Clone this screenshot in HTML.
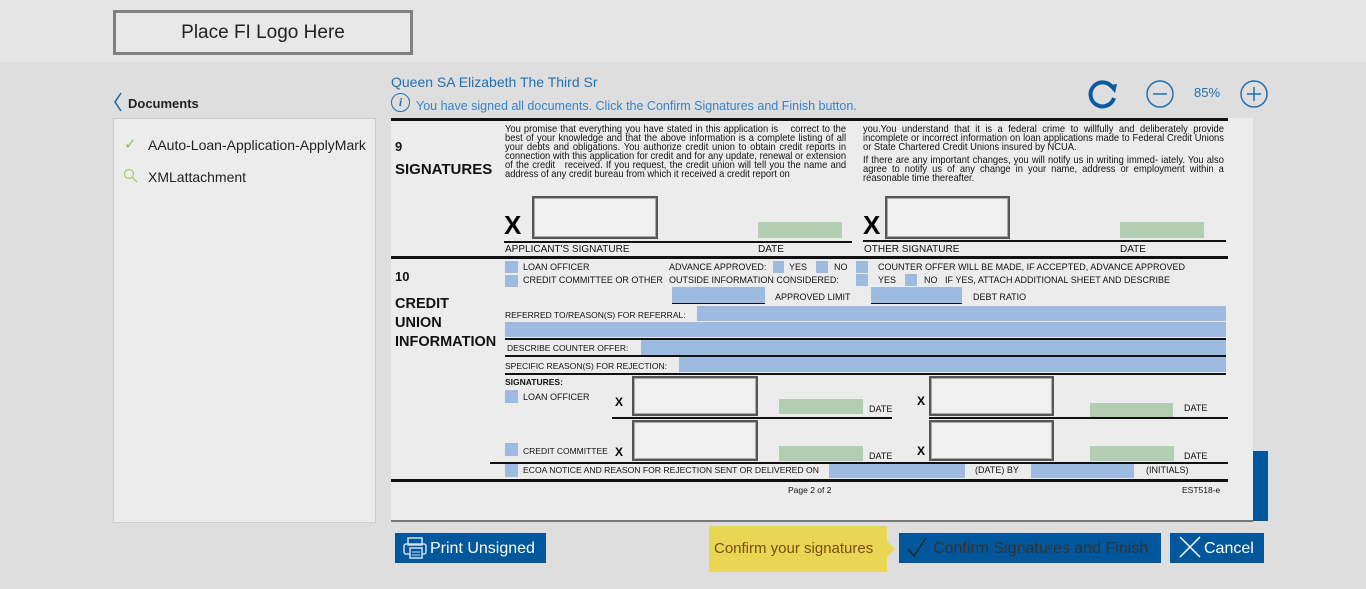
<!DOCTYPE html>
<html><head><meta charset="utf-8"><style>
*{margin:0;padding:0;box-sizing:border-box}
body{width:1366px;height:589px;background:#dedede;position:relative;overflow:hidden;font-family:"Liberation Sans",Arial,sans-serif}
.a{position:absolute}
.t{position:absolute;font-size:9px;color:#111;white-space:nowrap;line-height:10px}
.bl{position:absolute;background:#9dbbe0}
.gr{position:absolute;background:#b3cdb3}
.sig{position:absolute;border:2px solid #555;background:#f0f0f0;box-shadow:inset 0 0 0 1px #aaa}
.hl{position:absolute;background:#111}
.X{position:absolute;font-weight:bold;color:#000}
.btn{position:absolute;background:#00579b;color:#fff;font-size:16px;line-height:31px}
.par{position:absolute;font-size:10.4px;line-height:9px;color:#111;text-align:justify;transform:scaleX(0.9);transform-origin:0 0}
</style></head><body>
<div class="a" style="left:0;top:0;width:1366px;height:62px;background:#e5e5e5"></div>
<div class="a" style="left:113px;top:10px;width:300px;height:45px;border:3px solid #808080;background:#e8e8e8;font-size:19px;color:#222;text-align:center;line-height:39px">Place FI Logo Here</div>

<svg class="a" style="left:112px;top:91px" width="12" height="22"><path d="M9 2 L3 11 L9 20" fill="none" stroke="#1a63a8" stroke-width="1.5"/></svg>
<div class="a" style="left:128px;top:96px;font-size:13px;font-weight:bold;color:#222">Documents</div>
<div class="a" style="left:113px;top:118px;width:263px;height:405px;border:1px solid #ccc;background:#ececec"></div>
<div class="a" style="left:124px;top:135px;font-size:15px;color:#8bbd60">&#10003;</div>
<div class="a" style="left:148px;top:137px;font-size:14px;color:#222">AAuto-Loan-Application-ApplyMark</div>
<svg class="a" style="left:123px;top:168px" width="16" height="16"><circle cx="6" cy="6" r="4.5" fill="none" stroke="#a7c772" stroke-width="1.3"/><line x1="9" y1="9" x2="14" y2="14" stroke="#a7c772" stroke-width="1.3"/></svg>
<div class="a" style="left:148px;top:169px;font-size:14px;color:#222">XMLattachment</div>

<div class="a" style="left:391px;top:74px;font-size:14px;color:#1f6fb2">Queen SA Elizabeth The Third Sr</div>
<div class="a" style="left:391px;top:93px;width:19px;height:19px;border:1px solid #1f6fb2;border-radius:50%;color:#1f6fb2;font:italic bold 12px 'Liberation Serif',serif;text-align:center;line-height:17px">i</div>
<div class="a" style="left:416px;top:99px;font-size:12.5px;color:#3a82c4">You have signed all documents. Click the Confirm Signatures and Finish button.</div>

<svg class="a" style="left:1085px;top:78px" width="190" height="32">
<path d="M27 9 A12 12 0 1 0 29 20" fill="none" stroke="#0a5aa0" stroke-width="4"/>
<path d="M23 7 L32 6 L30 15 Z" fill="#0a5aa0"/>
<circle cx="75" cy="16" r="13" fill="none" stroke="#1f6fb2" stroke-width="1.5"/><line x1="68" y1="16" x2="82" y2="16" stroke="#1f6fb2" stroke-width="1.5"/>
<text x="109" y="19" font-size="13" fill="#1f6fb2" font-family="Liberation Sans">85%</text>
<circle cx="169" cy="16" r="13" fill="none" stroke="#1f6fb2" stroke-width="1.5"/><line x1="162" y1="16" x2="176" y2="16" stroke="#1f6fb2" stroke-width="1.5"/><line x1="169" y1="9" x2="169" y2="23" stroke="#1f6fb2" stroke-width="1.5"/>
</svg>

<div class="a" style="left:391px;top:118px;width:862px;height:404px;background:#ececec"></div>
<div class="a" style="left:391px;top:520px;width:862px;height:2px;background:#777"></div>
<div class="a" style="left:1253px;top:451px;width:15px;height:70px;background:#00579b"></div>

<div class="hl" style="left:391px;top:118px;width:837px;height:3px"></div>
<div class="t" style="left:395px;top:142px;font-size:13px;font-weight:bold">9</div>
<div class="t" style="left:395px;top:162px;font-size:15px;font-weight:bold;line-height:16px">SIGNATURES</div>
<div class="par" style="left:505px;top:125px;width:379px">You promise that everything you have stated in this application is &nbsp;&nbsp; correct to the best of your knowledge and that the above information is a complete listing of all your debts and obligations. You authorize credit union to obtain credit reports in connection with this application for credit and for any update, renewal or extension of the credit &nbsp; received. If you request, the credit union will tell you the name and address of any credit bureau from which it received a credit report on</div>
<div class="par" style="left:863px;top:125px;width:401px">you.You understand that it is a federal crime to willfully and deliberately provide incomplete or incorrect information on loan applications made to Federal Credit Unions or State Chartered Credit Unions insured by NCUA.</div>
<div class="par" style="left:863px;top:156px;width:401px">If there are any important changes, you will notify us in writing immed- iately. You also agree to notify us of any change in your name, address or employment within a reasonable time thereafter.</div>
<div class="X" style="left:504px;top:210px;font-size:26px">X</div>
<div class="sig" style="left:532px;top:196px;width:126px;height:43px"></div>
<div class="gr" style="left:758px;top:222px;width:84px;height:16px"></div>
<div class="hl" style="left:504px;top:241px;width:348px;height:2px"></div>
<div class="t" style="left:505px;top:245px;font-size:10px">APPLICANT'S SIGNATURE</div>
<div class="t" style="left:758px;top:245px;font-size:10px">DATE</div>
<div class="X" style="left:863px;top:210px;font-size:26px">X</div>
<div class="sig" style="left:885px;top:196px;width:125px;height:43px"></div>
<div class="gr" style="left:1120px;top:222px;width:84px;height:16px"></div>
<div class="hl" style="left:863px;top:240px;width:363px;height:2px"></div>
<div class="t" style="left:864px;top:245px;font-size:10px">OTHER SIGNATURE</div>
<div class="t" style="left:1120px;top:245px;font-size:10px">DATE</div>

<div class="hl" style="left:391px;top:256px;width:837px;height:3px"></div>
<div class="t" style="left:395px;top:272px;font-size:13px;font-weight:bold">10</div>
<div class="t" style="left:395px;top:295px;font-size:14.5px;font-weight:bold;line-height:19px">CREDIT<br>UNION<br>INFORMATION</div>

<div class="bl" style="left:505px;top:261px;width:13px;height:12px"></div>
<div class="t" style="left:523px;top:262px">LOAN OFFICER</div>
<div class="bl" style="left:505px;top:275px;width:13px;height:12px"></div>
<div class="t" style="left:523px;top:275px">CREDIT COMMITTEE OR OTHER</div>
<div class="t" style="left:669px;top:262px">ADVANCE APPROVED:</div>
<div class="bl" style="left:773px;top:261px;width:11px;height:12px"></div>
<div class="t" style="left:789px;top:262px">YES</div>
<div class="bl" style="left:816px;top:261px;width:12px;height:12px"></div>
<div class="t" style="left:834px;top:262px">NO</div>
<div class="t" style="left:669px;top:275px">OUTSIDE INFORMATION CONSIDERED:</div>
<div class="bl" style="left:856px;top:261px;width:12px;height:12px"></div>
<div class="t" style="left:878px;top:262px">COUNTER OFFER WILL BE MADE, IF ACCEPTED, ADVANCE APPROVED</div>
<div class="bl" style="left:856px;top:274px;width:12px;height:12px"></div>
<div class="t" style="left:878px;top:275px">YES</div>
<div class="bl" style="left:905px;top:274px;width:12px;height:12px"></div>
<div class="t" style="left:924px;top:275px">NO &nbsp; IF YES, ATTACH ADDITIONAL SHEET AND DESCRIBE</div>
<div class="bl" style="left:672px;top:287px;width:93px;height:16px"></div>
<div class="hl" style="left:672px;top:303px;width:93px;height:1px"></div>
<div class="t" style="left:775px;top:292px">APPROVED LIMIT</div>
<div class="bl" style="left:871px;top:287px;width:91px;height:16px"></div>
<div class="hl" style="left:871px;top:303px;width:91px;height:1px"></div>
<div class="t" style="left:973px;top:292px">DEBT RATIO</div>

<div class="t" style="left:505px;top:310px;font-size:8.5px">REFERRED TO/REASON(S) FOR REFERRAL:</div>
<div class="bl" style="left:697px;top:306px;width:529px;height:15px"></div>
<div class="bl" style="left:505px;top:322px;width:721px;height:15px"></div>
<div class="hl" style="left:505px;top:338px;width:721px;height:2px"></div>
<div class="t" style="left:507px;top:343px;font-size:8.5px">DESCRIBE COUNTER OFFER:</div>
<div class="bl" style="left:641px;top:340px;width:585px;height:15px"></div>
<div class="hl" style="left:505px;top:355px;width:721px;height:2px"></div>
<div class="t" style="left:505px;top:361px;font-size:8.5px">SPECIFIC REASON(S) FOR REJECTION:</div>
<div class="bl" style="left:679px;top:357px;width:547px;height:15px"></div>
<div class="hl" style="left:505px;top:373px;width:721px;height:2px"></div>
<div class="t" style="left:505px;top:377px;font-weight:bold;font-size:8.5px">SIGNATURES:</div>
<div class="bl" style="left:505px;top:390px;width:13px;height:13px"></div>
<div class="t" style="left:523px;top:392px">LOAN OFFICER</div>
<div class="X" style="left:615px;top:395px;font-size:12px">X</div>
<div class="sig" style="left:632px;top:376px;width:126px;height:40px"></div>
<div class="gr" style="left:779px;top:399px;width:84px;height:15px"></div>
<div class="t" style="left:869px;top:404px">DATE</div>
<div class="hl" style="left:612px;top:417px;width:280px;height:2px"></div>
<div class="X" style="left:917px;top:394px;font-size:12px">X</div>
<div class="sig" style="left:929px;top:376px;width:125px;height:40px"></div>
<div class="gr" style="left:1090px;top:403px;width:83px;height:14px"></div>
<div class="t" style="left:1184px;top:403px">DATE</div>
<div class="hl" style="left:929px;top:417px;width:299px;height:2px"></div>

<div class="bl" style="left:505px;top:443px;width:13px;height:13px"></div>
<div class="t" style="left:523px;top:446px;font-size:8.5px">CREDIT COMMITTEE</div>
<div class="X" style="left:615px;top:445px;font-size:12px">X</div>
<div class="sig" style="left:632px;top:420px;width:126px;height:41px"></div>
<div class="gr" style="left:779px;top:446px;width:84px;height:15px"></div>
<div class="t" style="left:869px;top:451px">DATE</div>
<div class="X" style="left:917px;top:444px;font-size:12px">X</div>
<div class="sig" style="left:929px;top:420px;width:125px;height:41px"></div>
<div class="gr" style="left:1090px;top:446px;width:84px;height:15px"></div>
<div class="t" style="left:1184px;top:451px">DATE</div>
<div class="hl" style="left:490px;top:462px;width:738px;height:2px"></div>
<div class="bl" style="left:505px;top:464px;width:13px;height:13px"></div>
<div class="t" style="left:523px;top:465px;font-size:8.6px">ECOA NOTICE AND REASON FOR REJECTION SENT OR DELIVERED ON</div>
<div class="bl" style="left:829px;top:464px;width:136px;height:14px"></div>
<div class="t" style="left:975px;top:465px">(DATE) BY</div>
<div class="bl" style="left:1031px;top:464px;width:103px;height:14px"></div>
<div class="t" style="left:1146px;top:465px">(INITIALS)</div>
<div class="hl" style="left:391px;top:479px;width:837px;height:3px"></div>
<div class="t" style="left:788px;top:485px;font-size:8.5px">Page 2 of 2</div>
<div class="t" style="left:1182px;top:485px;font-size:8.5px">EST518-e</div>

<div class="btn" style="left:395px;top:533px;width:151px;height:30px;padding-left:35px">Print Unsigned</div>
<svg class="a" style="left:403px;top:537px" width="24" height="22"><rect x="5" y="1" width="14" height="7" fill="none" stroke="#cfe0f0" stroke-width="1.5"/><rect x="1" y="7" width="22" height="10" rx="2" fill="none" stroke="#cfe0f0" stroke-width="1.5"/><rect x="7" y="11" width="12" height="10" fill="#00579b" stroke="#cfe0f0" stroke-width="1.5"/><line x1="9" y1="15" x2="17" y2="15" stroke="#cfe0f0"/><line x1="9" y1="18" x2="17" y2="18" stroke="#cfe0f0"/></svg>
<div class="a" style="left:709px;top:526px;width:178px;height:46px;background:#e9d652;color:#7a4a12;font-size:15px;line-height:46px;padding-left:5px">Confirm your signatures</div>
<div class="a" style="left:887px;top:541px;width:0;height:0;border-top:8px solid transparent;border-bottom:8px solid transparent;border-left:8px solid #e9d652"></div>
<div class="btn" style="left:899px;top:533px;width:262px;height:30px;color:#333;font-size:16px;padding-left:34px">Confirm Signatures and Finish</div>
<svg class="a" style="left:906px;top:536px" width="22" height="22"><path d="M2 13 L8 20 L20 2" fill="none" stroke="#222" stroke-width="1.3"/></svg>
<div class="btn" style="left:1170px;top:533px;width:94px;height:30px;padding-left:34px">Cancel</div>
<svg class="a" style="left:1179px;top:536px" width="22" height="22"><line x1="1" y1="1" x2="21" y2="21" stroke="#fff" stroke-width="1.5"/><line x1="21" y1="1" x2="1" y2="21" stroke="#fff" stroke-width="1.5"/></svg>
</body></html>
